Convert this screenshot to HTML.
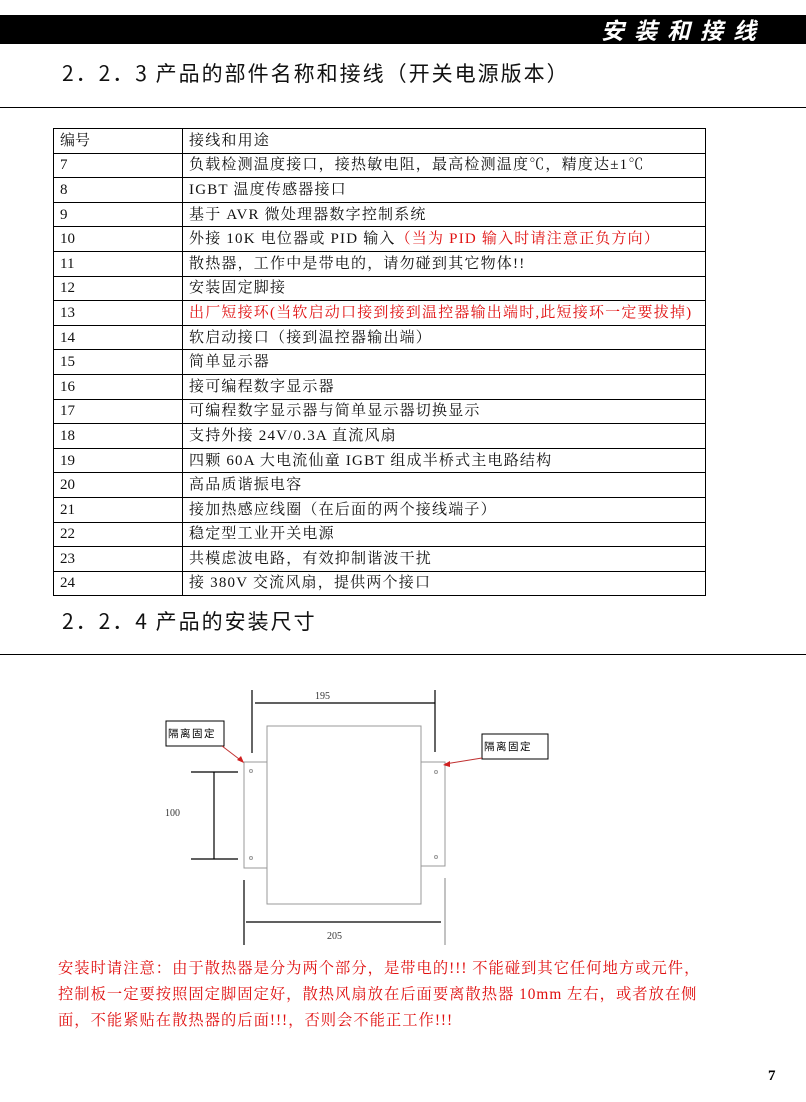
<!DOCTYPE html>
<html><head><meta charset="utf-8"><style>
body{margin:0;width:806px;height:1102px;background:#fff;position:relative;overflow:hidden;font-family:"Liberation Serif","Noto Serif CJK SC",serif;}
.a{position:absolute;}
.bar{left:0;top:15px;width:806px;height:29px;background:#000;}
.bt{right:40px;top:15px;color:#fff;font:italic bold 23px "Noto Sans CJK SC",sans-serif;letter-spacing:10px;line-height:29px;}
.h{font-family:"Noto Sans CJK SC",sans-serif;font-size:21px;color:#111;letter-spacing:2px;}
.rule{left:0;width:806px;height:1px;background:#000;}
table{position:absolute;left:53px;top:128px;border-collapse:collapse;width:653px;}
td{border:1px solid #000;height:23.6px;padding:0 0 0 6px;font-size:15px;line-height:14px;white-space:nowrap;color:#111;letter-spacing:1.2px;}
td:first-child{width:122px;letter-spacing:0;}
.r{color:#e01010;}
.note{left:58px;top:956px;color:#e01010;font-size:15.3px;line-height:26px;white-space:nowrap;letter-spacing:1px;}
</style></head><body>
<div class="a bar"></div><div class="a bt">安装和接线</div>
<div class="a h" style="left:62px;top:58px;">2．2．3 产品的部件名称和接线（开关电源版本）</div>
<div class="a rule" style="top:107px;"></div>
<table>
<tr><td>编号</td><td>接线和用途</td></tr>
<tr><td>7</td><td>负载检测温度接口，接热敏电阻，最高检测温度℃，精度达±1℃</td></tr>
<tr><td>8</td><td>IGBT 温度传感器接口</td></tr>
<tr><td>9</td><td>基于 AVR 微处理器数字控制系统</td></tr>
<tr><td>10</td><td>外接 10K 电位器或 PID 输入<span class="r">（当为 PID 输入时请注意正负方向）</span></td></tr>
<tr><td>11</td><td>散热器，工作中是带电的，请勿碰到其它物体!!</td></tr>
<tr><td>12</td><td>安装固定脚接</td></tr>
<tr><td>13</td><td class="r">出厂短接环(当软启动口接到接到温控器输出端时,此短接环一定要拔掉)</td></tr>
<tr><td>14</td><td>软启动接口（接到温控器输出端）</td></tr>
<tr><td>15</td><td>简单显示器</td></tr>
<tr><td>16</td><td>接可编程数字显示器</td></tr>
<tr><td>17</td><td>可编程数字显示器与简单显示器切换显示</td></tr>
<tr><td>18</td><td>支持外接 24V/0.3A 直流风扇</td></tr>
<tr><td>19</td><td>四颗 60A 大电流仙童 IGBT 组成半桥式主电路结构</td></tr>
<tr><td>20</td><td>高品质谐振电容</td></tr>
<tr><td>21</td><td>接加热感应线圈（在后面的两个接线端子）</td></tr>
<tr><td>22</td><td>稳定型工业开关电源</td></tr>
<tr><td>23</td><td>共模虑波电路，有效抑制谐波干扰</td></tr>
<tr><td>24</td><td>接 380V 交流风扇，提供两个接口</td></tr>
</table>
<div class="a h" style="left:62px;top:606px;">2．2．4 产品的安装尺寸</div>
<div class="a rule" style="top:654px;"></div>
<svg class="a" style="left:0;top:0" width="806" height="1102">
<g stroke="#000" stroke-width="1.2" fill="none">
<line x1="252" y1="690" x2="252" y2="753"/><line x1="435" y1="690" x2="435" y2="752"/>
<line x1="255" y1="703" x2="435" y2="703"/>
<line x1="191" y1="772" x2="238" y2="772"/><line x1="191" y1="859" x2="238" y2="859"/>
<line x1="214" y1="772" x2="214" y2="859"/>
<line x1="244" y1="880" x2="244" y2="945"/><line x1="445" y1="878" x2="445" y2="945" stroke="#999"/>
<line x1="246" y1="922" x2="441" y2="922"/>
</g>
<g stroke="#999" fill="#fff" stroke-width="1">
<rect x="244" y="762" width="23" height="106"/><rect x="421" y="762" width="24" height="104"/>
<rect x="267" y="726" width="154" height="178"/>
<circle cx="251" cy="771" r="1.5"/><circle cx="251" cy="858" r="1.5"/><circle cx="436" cy="772" r="1.5"/><circle cx="436" cy="857" r="1.5"/>
</g>
<g stroke="#000" fill="#fff" stroke-width="1"><rect x="166" y="721" width="58" height="25"/><rect x="482" y="734" width="66" height="25"/></g>
<g stroke="#c03030" stroke-width="1"><line x1="222" y1="746" x2="243" y2="762"/><line x1="482" y1="758" x2="445" y2="764"/></g>
<polygon points="244,763 237,760 241,756" fill="#d02020"/><polygon points="443,765 450,761 450,767" fill="#d02020"/>
<g font-family="Liberation Serif" font-size="10" fill="#333">
<text x="315" y="699">195</text><text x="165" y="816">100</text><text x="327" y="939">205</text></g>
<g font-family="Noto Sans CJK SC,sans-serif" font-size="10.5" fill="#000">
<text x="168" y="737" letter-spacing="1.5">隔离固定</text><text x="484" y="750" letter-spacing="1.5">隔离固定</text></g>
</svg>
<div class="a note">安装时请注意：由于散热器是分为两个部分，是带电的!!! 不能碰到其它任何地方或元件，<br>控制板一定要按照固定脚固定好，散热风扇放在后面要离散热器 10mm 左右，或者放在侧<br>面，不能紧贴在散热器的后面!!!，否则会不能正工作!!!</div>
<div class="a" style="left:768px;top:1068px;font-weight:bold;font-size:15px;">7</div>
</body></html>
